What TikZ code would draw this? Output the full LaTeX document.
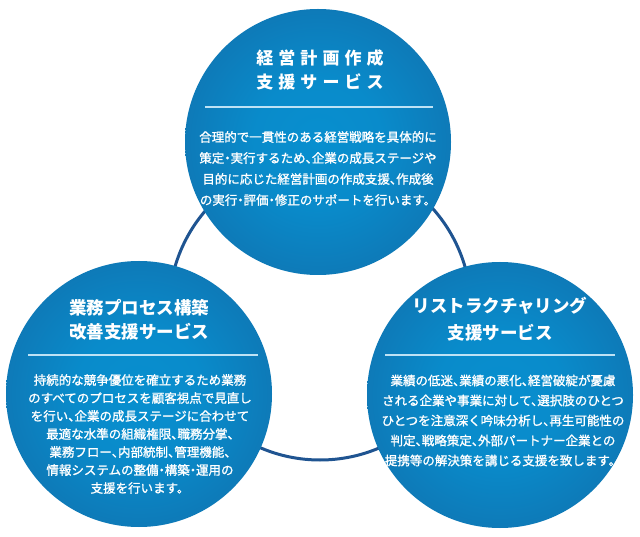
\documentclass[tikz,border=0pt]{standalone}
\usepackage{fontspec}
\setmainfont{Noto Sans CJK JP}
\newfontfamily\jpwide[LetterSpace=30]{Noto Sans CJK JP}
\newfontfamily\jpbody[FakeBold=1.3]{Noto Sans CJK JP}
\usetikzlibrary{positioning,calc}
\definecolor{orbin}{RGB}{8,143,207}
\definecolor{orbout}{RGB}{30,64,120}
\definecolor{ringblue}{RGB}{31,84,145}
\definecolor{ruleblue}{RGB}{190,226,245}
\pgfdeclareradialshading{orbshade}{\pgfpoint{0bp}{0bp}}{%
  color(0bp)=(orbin); color(12bp)=(orbin!95!orbout);
  color(32bp)=(orbin!62!orbout); color(50bp)=(orbout)}
% half-width punctuation
\newcommand{\tou}{、\kern-.5em}
\newcommand{\naka}{\kern-.25em・\kern-.25em}

\begin{document}
\begin{tikzpicture}[
    x=1pt, y=-1pt,
    orb/.style={circle, minimum size=266pt, inner sep=0pt, shading=orbshade},
    ttl/.style={text=white, align=center, inner sep=0pt,
                font=\bfseries\fontsize{17.5}{24}\selectfont},
    body/.style={text=white, align=center, inner sep=0pt,
                 font=\jpbody\fontsize{12.5}{21}\selectfont},
    rule/.style={draw=ruleblue, line width=1.1pt}
  ]
  \fill[white] (0,0) rectangle (640,537);
  \useasboundingbox (0,0) rectangle (640,537);

  % connecting ring
  \coordinate (hub) at (320,309);
  \draw[ringblue, line width=3pt] (hub) circle[radius=151];

  % three service circles
  \node[orb] (plan) at (318,142) {};
  \node[orb] (proc) at (139,394) {};
  \node[orb] (rest) at (500,395) {};

  % top: management planning
  \node[ttl, font=\jpwide\bfseries\fontsize{17}{24}\selectfont] (planttl) at (320,70)
  {経営計画作成\\支援サービス};
  \draw[rule] (205,107) -- (433,107);
  \node[body] (planbody) at (318,168.5)
  {合理的で一貫性のある経営戦略を具体的に\\
   策定\naka 実行するため\tou 企業の成長ステージや\\
   目的に応じた経営計画の作成支援\tou 作成後\\
   の実行\naka 評価\naka 修正のサポートを行います。};

  % bottom left: business process
  \node[ttl] (procttl) at (139,320)
  {業務プロセス構築\\改善支援サービス};
  \draw[rule] (28,355) -- (258,355);
  \node[body, font=\jpbody\fontsize{12.5}{18}\selectfont] (procbody) at (140,434)
  {持続的な競争優位を確立するため業務\\
   のすべてのプロセスを顧客視点で見直し\\
   を行い\tou 企業の成長ステージに合わせて\\
   最適な水準の組織権限\tou 職務分掌\tou \\
   業務フロー\tou 内部統制\tou 管理機能\tou \\
   情報システムの整備\naka 構築\naka 運用の\\
   支援を行います。};

  % bottom right: restructuring
  \node[ttl, font=\bfseries\fontsize{17.5}{27}\selectfont] (restttl) at (500,319)
  {リストラクチャリング\\支援サービス};
  \draw[rule] (385,355) -- (615,355);
  \node[body, font=\jpbody\fontsize{12.5}{20}\selectfont] (restbody) at (503,420.5)
  {業績の低迷\tou 業績の悪化\tou 経営破綻が憂慮\\
   される企業や事業に対して\tou 選択肢のひとつ\\
   ひとつを注意深く吟味分析し\tou 再生可能性の\\
   判定\tou 戦略策定\tou 外部パートナー企業との\\
   提携等の解決策を講じる支援を致します。};

\end{tikzpicture}
\end{document}
